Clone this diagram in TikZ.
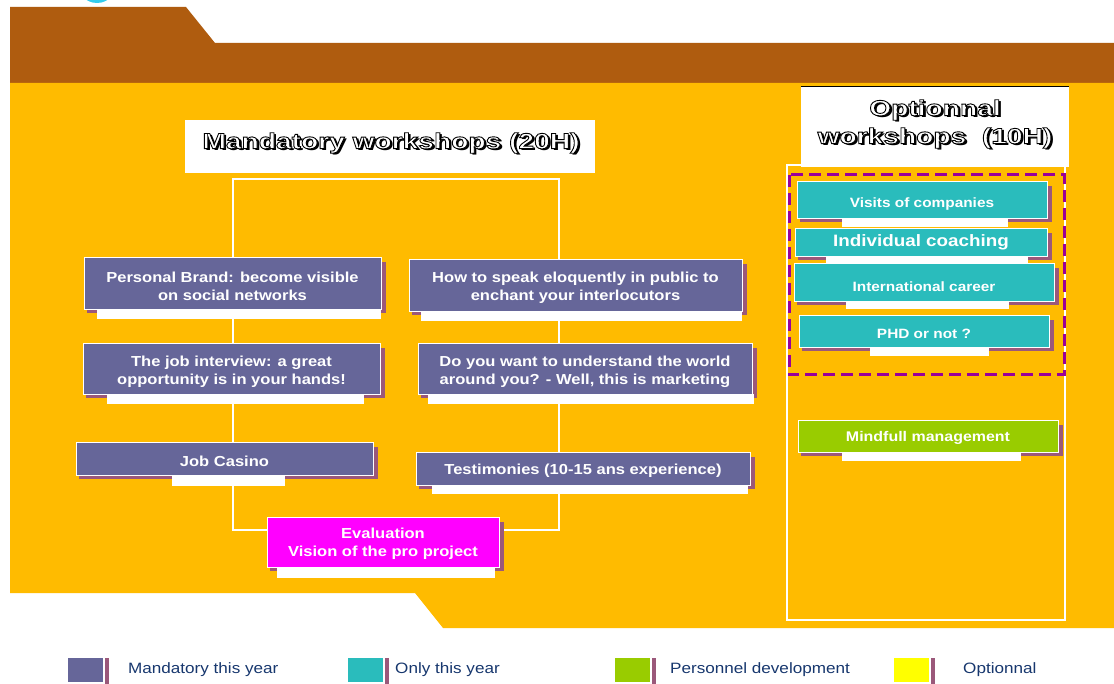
\documentclass[tikz,border=0pt]{standalone}
\usepackage{fontspec}
\setmainfont[FakeStretch=1.14]{Liberation Sans}
\newfontfamily\ttlfont[FakeStretch=1.28]{Liberation Sans}
\usetikzlibrary{calc}
\definecolor{brownband}{RGB}{175,92,15}
\definecolor{orangebg}{RGB}{255,187,0}
\definecolor{mauve}{RGB}{155,88,122}
\definecolor{purplebox}{RGB}{102,102,153}
\definecolor{tealbox}{RGB}{42,188,188}
\definecolor{greenbox}{RGB}{153,204,0}
\definecolor{magbox}{RGB}{255,0,255}
\definecolor{yellowbox}{RGB}{255,255,0}
\definecolor{dashpurple}{RGB}{153,0,153}
\definecolor{navytext}{RGB}{23,55,110}
\definecolor{cyantop}{RGB}{51,204,238}
\pgfdeclarelayer{back}
\pgfdeclarelayer{mid}
\pgfsetlayers{back,mid,main}
\tikzset{
  boxnode/.style={draw=white, line width=0.9pt, inner sep=0pt},
  boxtext/.style={text=white, align=center, inner sep=0pt, font=\bfseries\fontsize{14.5}{18}\selectfont},
  ttl/.style={font=\ttlfont\bfseries\fontsize{22}{28}\selectfont, align=center, inner sep=0pt},
  legtext/.style={text=navytext, anchor=west, inner sep=0pt, font=\fontsize{15}{18}\selectfont},
  frameline/.style={white, line width=1.3pt},
}
% shadowed box: name, fill, x1, y1, x2, y2
\newcommand\shbox[6]{%
  \fill[mauve] (#3+3,#4+5) rectangle (#5+5,#6+4);
  \node[boxnode, fill=#2, minimum width={#5-#3}, minimum height={#6-#4}] (#1) at ({(#3+#5)/2},{(#4+#6)/2}) {};
}
% white bar below a box: x1, x2, ytop, height
\newcommand\wbar[4]{\fill[white] (#1,#3) rectangle (#2,#3+#4);}
% outlined white text (fill + black stroke)
\newcommand\outl[1]{\special{pdf:literal direct 2 Tr 0.9 w 0 0 0 RG}#1\special{pdf:literal direct 0 Tr 0.4 w}}
\begin{document}
\begin{tikzpicture}[x=1pt,y=-1pt]
\useasboundingbox (0,0) rectangle (1114,684);
\begin{pgfonlayer}{back}
\fill[white] (0,0) rectangle (1114,684);
\begin{scope}
  \clip (0,0) rectangle (1114,684);
  \fill[cyantop] (97,-20) ellipse [x radius=21, y radius=23];
\end{scope}
\fill[brownband] (10,7) -- (186,7) -- (215,43) -- (1114,43) -- (1114,83) -- (10,83) -- cycle;
\fill[orangebg] (10,83) -- (1114,83) -- (1114,628) -- (443,628) -- (415,593) -- (10,593) -- cycle;
\end{pgfonlayer}

% title boxes
\node[fill=white, minimum width=410, minimum height=53, inner sep=0pt] (mtitlebox) at (390,146.5) {};
\draw[white, line width=1.3pt] (787,165) rectangle (1065,620);
\node[fill=white, minimum width=268, minimum height=80, inner sep=0pt] (otitlebox) at (935,127) {};
\draw[black, line width=0.8pt] (otitlebox.north west) -- (otitlebox.north east);

% Mandatory boxes
\shbox{pers}{purplebox}{84}{257}{381}{309}
\wbar{97}{381}{309}{10}
\node[boxtext] (perst) at ([shift={(0,3)}]pers.center) {Personal Brand: become visible\\on social networks};

\shbox{speak}{purplebox}{409}{259}{742}{311}
\wbar{421}{742}{311}{10}
\node[boxtext] (speakt) at ([shift={(0,3)}]speak.center) {How to speak eloquently in public to\\enchant your interlocutors};

\shbox{job}{purplebox}{83}{343}{380}{394}
\wbar{107}{364}{394}{10}
\node[boxtext] (jobt) at ([shift={(0,3)}]job.center) {The job interview: a great\\opportunity is in your hands!};

\shbox{world}{purplebox}{418}{343}{752}{394}
\wbar{428}{754}{394}{10}
\node[boxtext] (worldt) at ([shift={(0,3)}]world.center) {Do you want to understand the world\\around you? - Well, this is marketing};

\shbox{casino}{purplebox}{76}{442}{373}{475}
\wbar{172}{285}{475}{11}
\node[boxtext] (casinot) at ([shift={(0,3)}]casino.center) {Job Casino};

\shbox{testi}{purplebox}{416}{452}{750}{485}
\wbar{432}{748}{485}{9}
\node[boxtext] (testit) at ([shift={(0,2)}]testi.center) {Testimonies (10-15 ans experience)};

\shbox{eval}{magbox}{267}{517}{499}{567}
\wbar{277}{495}{567}{11}
\node[boxtext] (evalt) at ([shift={(0,2)}]eval.center) {Evaluation\\Vision of the pro project};

% frame connector
\coordinate (ftl) at (233,179);
\coordinate (ftr) at (559,179);
\coordinate (fbl) at (233,530);
\coordinate (fbr) at (559,530);
\begin{pgfonlayer}{mid}
\draw[frameline] (eval.west |- fbl) -- (fbl) -- (ftl) -- (ftr) -- (fbr) -- (eval.east |- fbr);
\end{pgfonlayer}

% Optional boxes
\draw[dashpurple, line width=3pt, dash pattern=on 12pt off 6pt] (789,175) rectangle (1064,375);

\shbox{visits}{tealbox}{797}{181}{1047}{218}
\wbar{842}{1008}{218}{9}
\node[boxtext, font=\bfseries\fontsize{13.5}{16}\selectfont] (visitst) at ([shift={(0,5)}]visits.center) {Visits of companies};

\shbox{coach}{tealbox}{795}{228}{1047}{256}
\wbar{826}{1028}{256}{12}
\node[boxtext, font=\bfseries\fontsize{16.5}{20}\selectfont] (coacht) at ([shift={(0,0)}]coach.center) {Individual coaching};

\shbox{intl}{tealbox}{794}{263}{1054}{301}
\wbar{846}{1009}{301}{8}
\node[boxtext, font=\bfseries\fontsize{13.5}{16}\selectfont] (intlt) at ([shift={(0,5)}]intl.center) {International career};

\shbox{phd}{tealbox}{799}{315}{1049}{347}
\wbar{870}{989}{347}{9}
\node[boxtext, font=\bfseries\fontsize{13.5}{16}\selectfont] (phdt) at ([shift={(0,3)}]phd.center) {PHD or not ?};

\shbox{mind}{greenbox}{798}{420}{1058}{452}
\wbar{842}{1021}{452}{9}
\node[boxtext, font=\bfseries\fontsize{14}{17}\selectfont] (mindt) at ([shift={(0,2)}]mind.center) {Mindfull management};

% Legend
\foreach \nm/\col/\x/\tx/\lab in {lg1/purplebox/67/128/Mandatory this year, lg2/tealbox/347/395/Only this year, lg3/greenbox/614/670/Personnel development, lg4/yellowbox/893/963/Optionnal}{
  \fill[mauve] (\x+38,658) rectangle (\x+42,684);
  \node[fill=\col, draw=white, line width=0.6pt, minimum width=36, minimum height=25, inner sep=0pt] (\nm) at (\x+18,669.5) {};
  \node[legtext] (\nm t) at (\tx,670) {\lab};
}

% titles (drawn last): drop shadow + outlined white text
\node[ttl, text=black] (mtitleshadow) at (393.2,145.2) {Mandatory workshops (20H)};
\node[ttl, text=white] (mtitle) at (391,143) {\outl{Mandatory workshops (20H)}};
\node[ttl, text=black] (otitleshadow) at (937.2,126.2) {Optionnal\\workshops\ \ (10H)};
\node[ttl, text=white] (otitle) at (935,124) {\outl{Optionnal}\\\outl{workshops\ \ (10H)}};
\end{tikzpicture}
\end{document}
